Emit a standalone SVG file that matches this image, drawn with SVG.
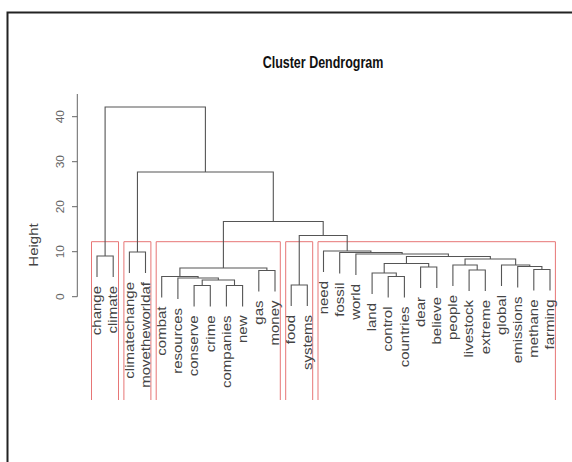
<svg xmlns="http://www.w3.org/2000/svg" width="572" height="462" viewBox="0 0 572 462">
<style>
.bg{fill:#ffffff}
.frame{fill:none;stroke:#222;stroke-width:2}
.ln{fill:none;stroke:#555;stroke-width:1.1}
.ax{fill:none;stroke:#666;stroke-width:1}
.rc{fill:none;stroke:#e77676;stroke-width:1}
.lab{font-family:"Liberation Sans",Arial,sans-serif;font-size:12px;fill:#444}
.tick{font-family:"Liberation Sans",Arial,sans-serif;font-size:10px;fill:#666}
.title{font-family:"Liberation Sans",Arial,sans-serif;font-size:12.5px;font-weight:bold;fill:#111}
</style>
<rect class="bg" x="0" y="0" width="572" height="462"/>
<path class="frame" d="M7.5,462V12.5H572"/>
<text class="title" text-anchor="middle" transform="translate(323,68) scale(1,1.25)">Cluster Dendrogram</text>
<g id="axis">
<path class="ax" d="M77.3,94V296.7M72,296.7H77.3M72,251.7H77.3M72,206.7H77.3M72,161.7H77.3M72,116.7H77.3"/>
<text class="tick" text-anchor="middle" dy="0.35em" transform="translate(60,296.7) rotate(-90) scale(1.2,1)">0</text>
<text class="tick" text-anchor="middle" dy="0.35em" transform="translate(60,251.7) rotate(-90) scale(1.2,1)">10</text>
<text class="tick" text-anchor="middle" dy="0.35em" transform="translate(60,206.7) rotate(-90) scale(1.2,1)">20</text>
<text class="tick" text-anchor="middle" dy="0.35em" transform="translate(60,161.7) rotate(-90) scale(1.2,1)">30</text>
<text class="tick" text-anchor="middle" dy="0.35em" transform="translate(60,116.7) rotate(-90) scale(1.2,1)">40</text>
<text class="lab" text-anchor="middle" dy="0.35em" transform="translate(34,245) rotate(-90) scale(1.25,1)">Height</text>
</g>
<g id="clusters">
<path class="rc" d="M91.5,400V241.7H118.5V400"/>
<path class="rc" d="M123.9,400V241.7H150.9V400"/>
<path class="rc" d="M156.2,400V241.7H280.3V400"/>
<path class="rc" d="M285.7,400V241.7H312.7V400"/>
<path class="rc" d="M318,400V241.7H555.4V400"/>
</g>
<g id="connectors">
<path class="ln" d="M97,277V256H113.2V277"/>
<path class="ln" d="M129.4,273V252H145.5V273"/>
<path class="ln" d="M194.1,306.5V285.5H210.3V306.5"/>
<path class="ln" d="M226.4,306.5V285.5H242.6V306.5"/>
<path class="ln" d="M202.2,285.5V280H234.5V285.5"/>
<path class="ln" d="M177.9,299V278H218.35V280"/>
<path class="ln" d="M161.7,297.5V276.5H198.1V278"/>
<path class="ln" d="M258.8,291.5V270.5H275V291.5"/>
<path class="ln" d="M179.9,276.5V268H266.9V270.5"/>
<path class="ln" d="M291.2,306V285H307.3V306"/>
<path class="ln" d="M388.2,297.5V276.5H404.4V297.5"/>
<path class="ln" d="M372.1,294V273H396.3V276.5"/>
<path class="ln" d="M420.6,288V267H436.8V288"/>
<path class="ln" d="M384.2,273V263.5H428.7V267"/>
<path class="ln" d="M469.1,291V270H485.3V291"/>
<path class="ln" d="M452.9,286V265H477.2V270"/>
<path class="ln" d="M533.8,290.5V269.5H550V290.5"/>
<path class="ln" d="M517.7,287.5V266.5H541.9V269.5"/>
<path class="ln" d="M501.5,286V265H529.8V266.5"/>
<path class="ln" d="M465.05,265V259H515.65V265"/>
<path class="ln" d="M406.45,263.5V256.5H490.35V259"/>
<path class="ln" d="M355.9,275V254H448.4V256.5"/>
<path class="ln" d="M339.7,273.5V252.5H402.15V254"/>
<path class="ln" d="M323.5,272V251H370.9V252.5"/>
<path class="ln" d="M299.25,285V235.5H347.2V251"/>
<path class="ln" d="M223.4,268V221.5H323.2V235.5"/>
<path class="ln" d="M137.45,252V172H273.3V221.5"/>
<path class="ln" d="M105.1,256V107H205.4V172"/>
</g>
<g id="leaf-change"><text class="lab" text-anchor="end" dy="0.35em" transform="translate(97,286) rotate(-90) scale(1.25,1)">change</text></g>
<g id="leaf-climate"><text class="lab" text-anchor="end" dy="0.35em" transform="translate(113.2,286) rotate(-90) scale(1.25,1)">climate</text></g>
<g id="leaf-climatechange"><text class="lab" text-anchor="end" dy="0.35em" transform="translate(129.4,282) rotate(-90) scale(1.25,1)">climatechange</text></g>
<g id="leaf-movetheworldaf"><text class="lab" text-anchor="end" dy="0.35em" transform="translate(145.5,282) rotate(-90) scale(1.25,1)">movetheworldaf</text></g>
<g id="leaf-combat"><text class="lab" text-anchor="end" dy="0.35em" transform="translate(161.7,306.5) rotate(-90) scale(1.25,1)">combat</text></g>
<g id="leaf-resources"><text class="lab" text-anchor="end" dy="0.35em" transform="translate(177.9,308) rotate(-90) scale(1.25,1)">resources</text></g>
<g id="leaf-conserve"><text class="lab" text-anchor="end" dy="0.35em" transform="translate(194.1,315.5) rotate(-90) scale(1.25,1)">conserve</text></g>
<g id="leaf-crime"><text class="lab" text-anchor="end" dy="0.35em" transform="translate(210.3,315.5) rotate(-90) scale(1.25,1)">crime</text></g>
<g id="leaf-companies"><text class="lab" text-anchor="end" dy="0.35em" transform="translate(226.4,315.5) rotate(-90) scale(1.25,1)">companies</text></g>
<g id="leaf-new"><text class="lab" text-anchor="end" dy="0.35em" transform="translate(242.6,315.5) rotate(-90) scale(1.25,1)">new</text></g>
<g id="leaf-gas"><text class="lab" text-anchor="end" dy="0.35em" transform="translate(258.8,300.5) rotate(-90) scale(1.25,1)">gas</text></g>
<g id="leaf-money"><text class="lab" text-anchor="end" dy="0.35em" transform="translate(275,300.5) rotate(-90) scale(1.25,1)">money</text></g>
<g id="leaf-food"><text class="lab" text-anchor="end" dy="0.35em" transform="translate(291.2,315) rotate(-90) scale(1.25,1)">food</text></g>
<g id="leaf-systems"><text class="lab" text-anchor="end" dy="0.35em" transform="translate(307.3,315) rotate(-90) scale(1.25,1)">systems</text></g>
<g id="leaf-need"><text class="lab" text-anchor="end" dy="0.35em" transform="translate(323.5,281) rotate(-90) scale(1.25,1)">need</text></g>
<g id="leaf-fossil"><text class="lab" text-anchor="end" dy="0.35em" transform="translate(339.7,282.5) rotate(-90) scale(1.25,1)">fossil</text></g>
<g id="leaf-world"><text class="lab" text-anchor="end" dy="0.35em" transform="translate(355.9,284) rotate(-90) scale(1.25,1)">world</text></g>
<g id="leaf-land"><text class="lab" text-anchor="end" dy="0.35em" transform="translate(372.1,303) rotate(-90) scale(1.25,1)">land</text></g>
<g id="leaf-control"><text class="lab" text-anchor="end" dy="0.35em" transform="translate(388.2,306.5) rotate(-90) scale(1.25,1)">control</text></g>
<g id="leaf-countries"><text class="lab" text-anchor="end" dy="0.35em" transform="translate(404.4,306.5) rotate(-90) scale(1.25,1)">countries</text></g>
<g id="leaf-dear"><text class="lab" text-anchor="end" dy="0.35em" transform="translate(420.6,297) rotate(-90) scale(1.25,1)">dear</text></g>
<g id="leaf-believe"><text class="lab" text-anchor="end" dy="0.35em" transform="translate(436.8,297) rotate(-90) scale(1.25,1)">believe</text></g>
<g id="leaf-people"><text class="lab" text-anchor="end" dy="0.35em" transform="translate(452.9,295) rotate(-90) scale(1.25,1)">people</text></g>
<g id="leaf-livestock"><text class="lab" text-anchor="end" dy="0.35em" transform="translate(469.1,300) rotate(-90) scale(1.25,1)">livestock</text></g>
<g id="leaf-extreme"><text class="lab" text-anchor="end" dy="0.35em" transform="translate(485.3,300) rotate(-90) scale(1.25,1)">extreme</text></g>
<g id="leaf-global"><text class="lab" text-anchor="end" dy="0.35em" transform="translate(501.5,295) rotate(-90) scale(1.25,1)">global</text></g>
<g id="leaf-emissions"><text class="lab" text-anchor="end" dy="0.35em" transform="translate(517.7,296.5) rotate(-90) scale(1.25,1)">emissions</text></g>
<g id="leaf-methane"><text class="lab" text-anchor="end" dy="0.35em" transform="translate(533.8,299.5) rotate(-90) scale(1.25,1)">methane</text></g>
<g id="leaf-farming"><text class="lab" text-anchor="end" dy="0.35em" transform="translate(550,299.5) rotate(-90) scale(1.25,1)">farming</text></g>
</svg>
